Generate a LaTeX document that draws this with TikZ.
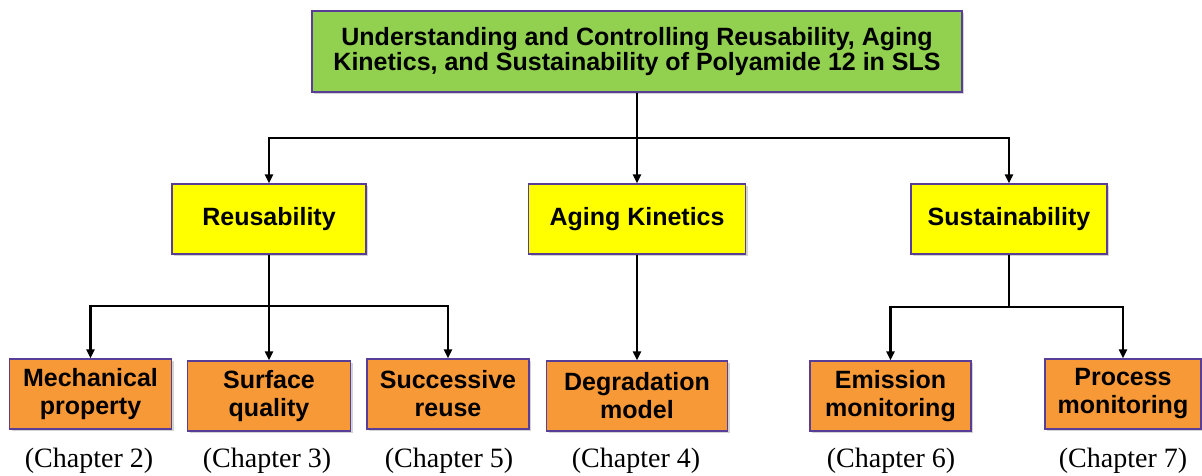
\documentclass[tikz,border=0pt]{standalone}
\usepackage{fontspec}
\setmainfont{Liberation Serif}
\setsansfont{Liberation Sans}
\usetikzlibrary{arrows.meta,shadows}

\definecolor{boxline}{RGB}{88,62,150}
\definecolor{topgreen}{RGB}{146,208,80}
\definecolor{midyellow}{RGB}{255,255,0}
\definecolor{leaforange}{RGB}{248,153,56}

\tikzset{
  box/.style={draw=boxline, line width=1.4pt, align=center, inner sep=2pt,
    font=\sffamily\bfseries\fontsize{25}{28}\selectfont,
    drop shadow={shadow xshift=2pt, shadow yshift=-2pt, opacity=0.35}},
  topbox/.style={box, fill=topgreen, minimum width=650, minimum height=81,
    font=\sffamily\bfseries\fontsize{25}{25.5}\selectfont},
  midbox/.style={box, fill=midyellow, minimum height=70},
  leafbox/.style={box, fill=leaforange, minimum height=70},
  chap/.style={font=\fontsize{28}{30}\selectfont},
  arr/.style={line width=2.4pt, -{Triangle[length=9pt,width=8pt]}},
  link/.style={line width=2.4pt}
}

\begin{document}
\begin{tikzpicture}[x=1pt,y=-1pt]
        \useasboundingbox (0,0) rectangle (1202,476);
        % top level
        \node[topbox] (root) at (637,51.5) {Understanding and Controlling Reusability, Aging\\Kinetics, and Sustainability of Polyamide 12 in SLS};
        % second level
        \node[midbox, minimum width=194] (reuse) at (269,219) {Reusability};
        \node[midbox, minimum width=217] (aging) at (637,219) {Aging Kinetics};
        \node[midbox, minimum width=196] (sustain) at (1009,219) {Sustainability};
        % third level
        \node[leafbox, minimum width=162] (mech) at (90.5,394) {Mechanical\\property};
        \node[leafbox, minimum width=163] (surf) at (269,396) {Surface\\quality};
        \node[leafbox, minimum width=162] (succ) at (448,394) {Successive\\reuse};
        \node[leafbox, minimum width=181] (degr) at (637,396) {Degradation\\model};
        \node[leafbox, minimum width=161] (emis) at (890.5,396) {Emission\\monitoring};
        \node[leafbox, minimum width=156] (proc) at (1123,394) {Process\\monitoring};
        % chapters
        \node[chap] (c2) at (89,461) {(Chapter 2)};
        \node[chap] (c3) at (267,461) {(Chapter 3)};
        \node[chap] (c5) at (449,461) {(Chapter 5)};
        \node[chap] (c4) at (636,461) {(Chapter 4)};
        \node[chap] (c6) at (891,461) {(Chapter 6)};
        \node[chap] (c7) at (1123,461) {(Chapter 7)};
        % connectors
        \coordinate (j0) at (root.south |- 0,138);
        \coordinate (j1) at (reuse.south |- 0,306);
        \coordinate (j2) at (sustain.south |- 0,307);
        \draw[link] (root.south) -- (j0);
        \draw[arr] (j0) -| (reuse.north);
        \draw[arr] (j0) -- (aging.north);
        \draw[arr] (j0) -| (sustain.north);
        \draw[link] (reuse.south) -- (j1);
        \draw[arr] (j1) -| (mech.north);
        \draw[arr] (j1) -- (surf.north);
        \draw[arr] (j1) -| (succ.north);
        \draw[arr] (aging.south) -- (degr.north);
        \draw[link] (sustain.south) -- (j2);
        \draw[arr] (j2) -| (emis.north);
        \draw[arr] (j2) -| (proc.north);
    \end{tikzpicture}
\end{document}
